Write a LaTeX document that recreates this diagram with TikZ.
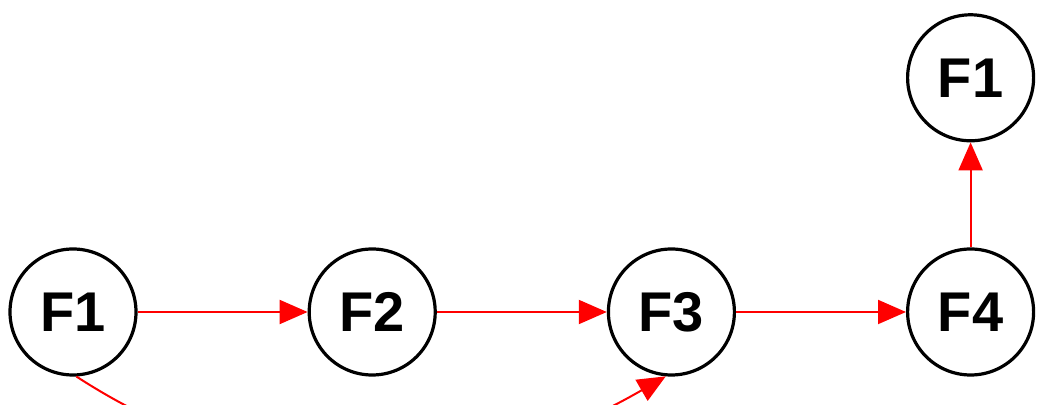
\documentclass[tikz,border=0pt]{standalone}
\usepackage{fontspec}
\setmainfont{Liberation Sans}
\usetikzlibrary{arrows.meta,positioning}
\tikzset{
  state/.style={circle, draw, line width=1.6pt, minimum size=63pt, inner sep=0pt, fill=white, font=\fontsize{28}{30}\selectfont\bfseries},
  arrow/.style={-{Triangle[length=14pt,width=12pt]}, line width=1pt, color=red}
}

\begin{document}
\begin{tikzpicture}[node distance=85pt and 85pt]
  \useasboundingbox (0,0) rectangle (524pt,202.5pt);
  \node[state] (f1) at (36.5pt,46.5pt) {F1};
  \node[state, right=of f1] (f2) {F2};
  \node[state, right=of f2] (f3) {F3};
  \node[state, right=of f3] (f4) {F4};
  \node[state, above=52.5pt of f4] (f1top) {F1};

  \draw[arrow] (f1) -- (f2);
  \draw[arrow] (f2) -- (f3);
  \draw[arrow] (f3) -- (f4);
  \draw[arrow] (f4) -- (f1top);
  \draw[arrow] (f1.-87) to[out=-33, in=-150] (f3.-95);
\end{tikzpicture}
\end{document}
